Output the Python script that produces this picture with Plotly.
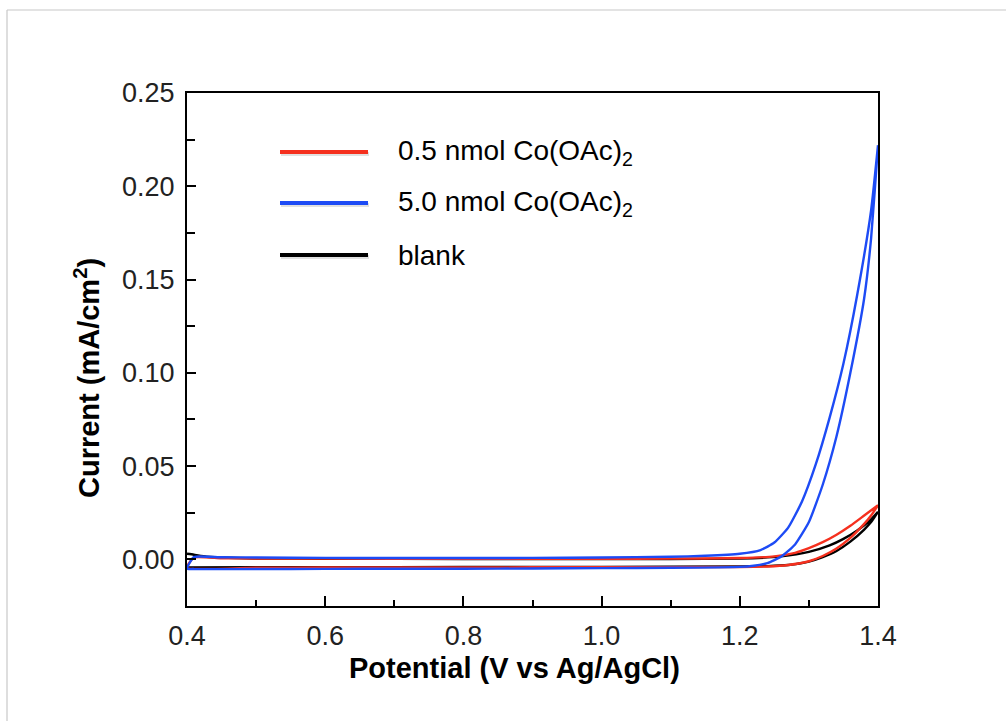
import plotly.graph_objects as go

# Cyclic voltammograms: anodic sweep (0.4 -> 1.4 V) then cathodic sweep back (1.4 -> 0.4 V)
# Potential in V vs Ag/AgCl, current density in mA/cm^2

# 5.0 nmol Co(OAc)2
blue_fwd_v = [0.40, 0.41, 0.45, 0.50, 0.60, 0.70, 0.80, 0.90, 1.00, 1.10, 1.15, 1.20, 1.23, 1.25, 1.27, 1.29, 1.31, 1.33, 1.35, 1.37, 1.39, 1.40]
blue_fwd_i = [-0.0050, 0.0012, 0.0011, 0.0010, 0.0008, 0.0007, 0.0007, 0.0008, 0.0010, 0.0014, 0.0019, 0.0030, 0.0050, 0.0090, 0.0170, 0.0310, 0.0510, 0.0760, 0.1050, 0.1420, 0.1870, 0.2220]
blue_rev_v = [1.40, 1.39, 1.38, 1.36, 1.34, 1.32, 1.30, 1.28, 1.26, 1.24, 1.22, 1.20, 1.10, 1.00, 0.90, 0.80, 0.70, 0.60, 0.50, 0.41, 0.40]
blue_rev_i = [0.2220, 0.1720, 0.1400, 0.1000, 0.0660, 0.0400, 0.0200, 0.0080, 0.0015, -0.0020, -0.0034, -0.0040, -0.0045, -0.0047, -0.0049, -0.0050, -0.0050, -0.0051, -0.0052, -0.0052, -0.0050]

# 0.5 nmol Co(OAc)2
red_fwd_v = [0.40, 0.41, 0.45, 0.50, 0.60, 0.80, 1.00, 1.10, 1.20, 1.25, 1.28, 1.30, 1.32, 1.34, 1.36, 1.38, 1.40]
red_fwd_i = [-0.0045, 0.0010, 0.0006, 0.0005, 0.0004, 0.0003, 0.0003, 0.0004, 0.0007, 0.0016, 0.0035, 0.0060, 0.0092, 0.0132, 0.0180, 0.0235, 0.0290]
red_rev_v = [1.40, 1.39, 1.38, 1.36, 1.34, 1.32, 1.30, 1.27, 1.24, 1.20, 1.00, 0.80, 0.60, 0.50, 0.40]
red_rev_i = [0.0290, 0.0235, 0.0190, 0.0115, 0.0058, 0.0018, -0.0010, -0.0030, -0.0038, -0.0041, -0.0042, -0.0043, -0.0044, -0.0045, -0.0045]

# blank electrode
black_fwd_v = [0.40, 0.41, 0.42, 0.44, 0.47, 0.50, 0.60, 0.80, 1.00, 1.20, 1.26, 1.30, 1.33, 1.35, 1.37, 1.39, 1.40]
black_fwd_i = [0.0030, 0.0025, 0.0018, 0.0011, 0.0007, 0.0005, 0.0003, 0.0002, 0.0002, 0.0004, 0.0016, 0.0040, 0.0075, 0.0110, 0.0155, 0.0215, 0.0255]
black_rev_v = [1.40, 1.39, 1.38, 1.36, 1.34, 1.32, 1.30, 1.27, 1.24, 1.20, 1.00, 0.80, 0.60, 0.40]
black_rev_i = [0.0255, 0.0200, 0.0160, 0.0095, 0.0045, 0.0012, -0.0012, -0.0030, -0.0036, -0.0038, -0.0040, -0.0041, -0.0042, -0.0043]

series = [
    ("blank", black_fwd_v, black_fwd_i, black_rev_v, black_rev_i, "#000000"),
    ("0.5 nmol Co(OAc)<sub>2</sub>", red_fwd_v, red_fwd_i, red_rev_v, red_rev_i, "#f5301e"),
    ("5.0 nmol Co(OAc)<sub>2</sub>", blue_fwd_v, blue_fwd_i, blue_rev_v, blue_rev_i, "#1d4bf5"),
]
legend_order = [1, 2, 0]

x_range = [0.4, 1.4]
y_range = [-0.025, 0.25]
x_ticks = [0.4, 0.6, 0.8, 1.0, 1.2, 1.4]
x_ticklabels = ["0.4", "0.6", "0.8", "1.0", "1.2", "1.4"]
y_ticks = [0.00, 0.05, 0.10, 0.15, 0.20, 0.25]
y_ticklabels = ["0.00", "0.05", "0.10", "0.15", "0.20", "0.25"]

fig = go.Figure()
for name, fv, fi, rv, ri, color in series:
    fig.add_trace(go.Scatter(
        x=fv + rv, y=fi + ri, mode="lines", name=name,
        line=dict(color=color, width=2.4, shape="spline", smoothing=0.5),
        showlegend=False,
    ))

W, H = 1006, 721
L, R, T, B = 187, 878, 93, 606
pw, ph = R - L, B - T

def px(xp):
    return (xp - L) / pw

def py(yp):
    return (B - yp) / ph

shapes = []
annotations = []
FONT = "Liberation Sans, Arial, Helvetica, sans-serif"

# legend drawn as line samples with labels
legend_y = [152, 203, 255]
for row, idx in enumerate(legend_order):
    name, *_, color = series[idx]
    yy = py(legend_y[row])
    shapes.append(dict(type="line", xref="paper", yref="paper",
                       x0=px(281), x1=px(369), y0=py(legend_y[row] + 2), y1=py(legend_y[row] + 2),
                       line=dict(color="rgba(0,0,0,0.12)", width=4)))
    shapes.append(dict(type="line", xref="paper", yref="paper",
                       x0=px(280), x1=px(368), y0=yy, y1=yy,
                       line=dict(color=color, width=3.8)))
    annotations.append(dict(xref="paper", yref="paper", x=px(396), y=yy,
                            xanchor="left", yanchor="middle", showarrow=False,
                            text=name, font=dict(family=FONT, size=28, color="#000")))

# axis titles
annotations.append(dict(xref="paper", yref="paper", x=px(514), y=py(668),
                        xanchor="center", yanchor="middle", showarrow=False,
                        text="<b>Potential (V vs Ag/AgCl)</b>",
                        font=dict(family=FONT, size=29, color="#000")))
annotations.append(dict(xref="paper", yref="paper", x=px(87), y=py(378),
                        xanchor="center", yanchor="middle", showarrow=False, textangle=-90,
                        text="<b>Current (mA/cm<sup>2</sup>)</b>",
                        font=dict(family=FONT, size=29, color="#000")))

# light page frame
shapes.append(dict(type="line", xref="paper", yref="paper",
                   x0=px(7), x1=px(W + 5), y0=py(10), y1=py(10),
                   line=dict(color="#c8c8c8", width=1.2)))
shapes.append(dict(type="line", xref="paper", yref="paper",
                   x0=px(7), x1=px(7), y0=py(10), y1=py(H + 5),
                   line=dict(color="#c8c8c8", width=1.2)))

axis_common = dict(showgrid=False, zeroline=False, showline=True, linecolor="#000",
                   linewidth=2, mirror=True, ticks="inside", tickcolor="#000",
                   tickwidth=2, tickfont=dict(family=FONT, size=27, color="#222"))

fig.update_layout(
    width=W, height=H,
    margin=dict(l=L, r=W - R, t=T, b=H - B),
    paper_bgcolor="white", plot_bgcolor="white",
    xaxis=dict(range=x_range, tickvals=x_ticks, ticktext=x_ticklabels, ticklen=10,
               minor=dict(dtick=0.1, tick0=0.4, ticks="inside", ticklen=6, tickwidth=2, tickcolor="#000"),
               ticklabelstandoff=5, **axis_common),
    yaxis=dict(range=y_range, tickvals=y_ticks, ticktext=y_ticklabels, ticklen=9,
               minor=dict(dtick=0.025, tick0=0, ticks="inside", ticklen=8, tickwidth=2, tickcolor="#000"),
               ticklabelstandoff=5, **axis_common),
    shapes=shapes, annotations=annotations,
)

fig.write_html("out.html")
